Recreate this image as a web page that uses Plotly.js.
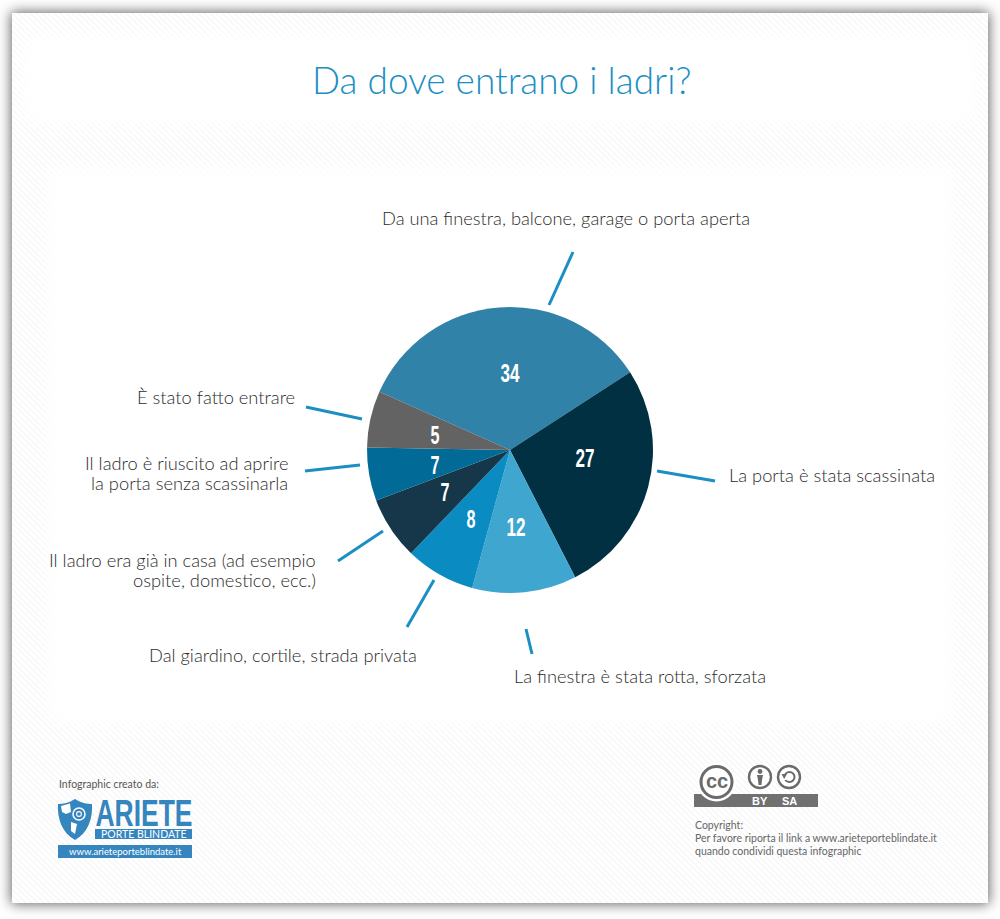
<!DOCTYPE html>
<html lang="it">
<head>
<meta charset="utf-8">
<title>Da dove entrano i ladri?</title>
<script src="https://cdn.plot.ly/plotly-3.0.1.min.js"></script>
<style>
html,body{margin:0;padding:0;background:#fff;width:1000px;height:919px;overflow:hidden}
#card{position:absolute;left:12px;top:13px;width:976px;height:890px;overflow:hidden;background:#fff;
 box-shadow:0 0 12px 1px rgba(0,0,0,.62)}
#hatch{position:absolute;inset:0;background-image:url("data:image/svg+xml,%3Csvg xmlns='http://www.w3.org/2000/svg' width='6' height='6'%3E%3Cpath d='M-1 -1L7 7M-1 5L1 7M5 -1L7 1' stroke='%23f5f5f5' stroke-width='1.2'/%3E%3C/svg%3E")}
.clear{position:absolute;background:#fff;filter:blur(9px)}
#chart{position:absolute;left:0;top:0;width:1000px;height:919px}
</style>
</head>
<body>
<div id="card">
 <div id="hatch"></div>
 <div class="clear" style="left:10px;top:22px;width:956px;height:88px"></div>
 <div class="clear" style="left:35px;top:155px;width:906px;height:555px"></div>
</div>
<div id="chart"></div>
<script>
// Printed numbers on the slices
const printedValues = [34, 27, 12, 8, 7, 7, 5];
// Slice sizes as drawn in the picture (share of the circle, %); the drawn wedges
// differ a little from the printed numbers, so both are kept.
const drawnShares = [34.2, 26.6, 11.8, 7.9, 7.1, 6.0, 6.4];
const sliceNames = [
  "Da una finestra, balcone, garage o porta aperta",
  "La porta è stata scassinata",
  "La finestra è stata rotta, sforzata",
  "Dal giardino, cortile, strada privata",
  "Il ladro era già in casa (ad esempio ospite, domestico, ecc.)",
  "Il ladro è riuscito ad aprire la porta senza scassinarla",
  "È stato fatto entrare"
];
const sliceColors = ["#3182a8", "#013043", "#3fa6d0", "#0a8bc2", "#16364a", "#026a97", "#636363"];
const titleText = "Da dove entrano i ladri?";

const W = 1000, H = 919;
const px = x => x / W, py = y => 1 - y / H;
const BLUE = "#1b8fc4", LOGO = "#3585bf", GREY = "#6b6b6b", INK = "#2b2b2b";
const LIGHT = "Lato Light, Lato, sans-serif";
const BOLD = "Liberation Sans, sans-serif";

function label(text, x, y, size, color, anchor, family, weight) {
  return {text, x: px(x), y: py(y), xref: "paper", yref: "paper", showarrow: false,
    xanchor: anchor || "left", yanchor: "middle", borderpad: 0,
    font: {size, color, family: family || LIGHT, weight: weight || 400}};
}
function seg(x0, y0, x1, y1) {
  return {type: "line", xref: "paper", yref: "paper", x0: px(x0), y0: py(y0), x1: px(x1), y1: py(y1),
    line: {color: BLUE, width: 3}};
}
function box(x0, y0, x1, y1, color) {
  return {type: "rect", xref: "paper", yref: "paper", x0: px(x0), y0: py(y0), x1: px(x1), y1: py(y1),
    fillcolor: color, line: {width: 0}};
}
function ring(cx, cy, r, color, width, fill) {
  return {type: "circle", xref: "paper", yref: "paper", x0: px(cx - r), y0: py(cy - r), x1: px(cx + r), y1: py(cy + r),
    fillcolor: fill || "rgba(0,0,0,0)", line: {color, width}};
}
function path(points, fill) {
  let s = "";
  points.forEach(p => { s += typeof p === "string" ? p : px(p[0]) + "," + py(p[1]) + " "; });
  return {type: "path", xref: "paper", yref: "paper", path: s, fillcolor: fill, line: {width: 0}};
}

const leaders = [
  seg(549, 305, 573, 252), seg(657, 471, 715, 481), seg(526, 629, 532, 654),
  seg(434, 580, 407, 627), seg(383, 531, 338, 561), seg(360, 465, 305, 471), seg(362, 419, 306, 407)
];
const shield = [
  path(["M",[75,799],"C",[81,803],[87,804],[92,804],"C",[93,818],[88,833],[75,840],"C",[62,833],[57,818],[58,804],"C",[63,804],[69,803],[75,799],"Z"], LOGO),
  path(["M",[61,806],"L",[70,803.5],"L",[71,812],"L",[66,814],"L",[62,812],"Z"], "#fff"),
  ring(79, 814, 6, "#fff", 1.5),
  ring(79, 814, 2.4, "#fff", 1.1),
  path(["M",[71,822],"L",[77,824],"L",[75,834],"L",[71,831],"Z"], "#fff")
];
const logoBars = [box(95, 829, 192, 839, LOGO), box(58, 845, 192, 858, LOGO)];
const ccShapes = [
  box(694, 794, 818, 807, "#707070"),
  ring(716.5, 782, 19.5, "#fff", 0, "#fff"),
  ring(716.5, 782, 15.5, GREY, 3, "#fff"),
  ring(760, 777, 11, GREY, 2.4, "#fff"),
  ring(760, 771.5, 2.4, GREY, 0, GREY),
  path(["M",[757,775],"L",[763,775],"L",[762,780],"L",[761.5,785],"L",[758.5,785],"L",[758,780],"Z"], GREY),
  ring(789, 777, 11, GREY, 2.4, "#fff"),
  ring(789.5, 777, 5, GREY, 2, "#fff"),
  box(782, 774, 786.5, 780, "#fff"),
  path(["M",[781.5,774],"L",[787,774],"L",[784.2,779],"Z"], GREY)
];

// Where the printed numbers sit on the slices (layout only, in page pixels)
const numberSpots = [[510, 373], [585, 458], [516, 527], [471, 519], [445, 492], [435, 465], [435, 435]];
const numberLabels = printedValues.map((v, i) =>
  label(String(v), numberSpots[i][0], numberSpots[i][1], 25, "#fff", "center", BOLD, 700));

const annotations = [
  label(titleText, 501, 80, 37, BLUE, "center"),
  label("Da una finestra, balcone, garage o porta aperta", 566, 218, 18.3, INK, "center"),
  label("La porta è stata scassinata", 728, 475, 18.3, INK),
  label("La finestra è stata rotta, sforzata", 513, 676, 18.3, INK),
  label("Dal giardino, cortile, strada privata", 418, 655, 18.3, INK, "right"),
  label("Il ladro era già in casa (ad esempio", 317, 560, 18.3, INK, "right"),
  label("ospite, domestico, ecc.)", 317, 580, 18.3, INK, "right"),
  label("Il ladro è riuscito ad aprire", 289, 462.5, 18.3, INK, "right"),
  label("la porta senza scassinarla", 289, 483, 18.3, INK, "right"),
  label("È stato fatto entrare", 296, 397, 18.3, INK, "right"),
  label("Infographic creato da:", 58, 784, 10.5, "#555", "left", "Lato, sans-serif"),
  label("ARIETE", 143.5, 813, 36, LOGO, "center", BOLD, 700),
  label("PORTE BLINDATE", 144, 834.2, 10.5, "#fff", "center", "Lato, sans-serif"),
  label("www.arieteporteblindate.it", 125, 851.5, 9.5, "#fff", "center", "Lato, sans-serif"),
  label("cc", 716.5, 781, 20, GREY, "center", BOLD, 700),
  label("BY", 760, 800.6, 11, "#fff", "center", BOLD, 700),
  label("SA", 789, 800.6, 11, "#fff", "center", BOLD, 700),
  label("Copyright:", 694, 825, 10.5, "#666", "left", "Lato, sans-serif"),
  label("Per favore riporta il link a www.arieteporteblindate.it", 694, 838, 10.5, "#666", "left", "Lato, sans-serif"),
  label("quando condividi questa infographic", 694, 851, 10.5, "#666", "left", "Lato, sans-serif"),
  ...numberLabels
];

// Installed fonts have no condensed face: squeeze these glyphs to the reference widths.
const squeezed = {"ARIETE": 97};
printedValues.forEach(v => { squeezed[String(v)] = String(v).length === 2 ? 19 : 9; });

Plotly.newPlot("chart", [{
  type: "pie",
  labels: sliceNames,
  values: drawnShares,
  text: printedValues.map(String),
  textinfo: "none",
  sort: false,
  direction: "clockwise",
  rotation: -66,
  marker: {colors: sliceColors, line: {width: 0}},
  domain: {x: [px(367), px(653)], y: [py(593), py(307)]},
  showlegend: false,
  hoverinfo: "label+text"
}], {
  width: W, height: H,
  margin: {l: 0, r: 0, t: 0, b: 0, pad: 0},
  paper_bgcolor: "rgba(0,0,0,0)",
  plot_bgcolor: "rgba(0,0,0,0)",
  showlegend: false,
  shapes: [...leaders, ...shield, ...logoBars, ...ccShapes],
  annotations
}, {displayModeBar: false, responsive: false}).then(() => {
  document.querySelectorAll(".annotation-text").forEach(t => {
    const w = squeezed[t.textContent];
    if (w) { t.setAttribute("textLength", w); t.setAttribute("lengthAdjust", "spacingAndGlyphs"); }
  });
});
</script>
</body>
</html>
